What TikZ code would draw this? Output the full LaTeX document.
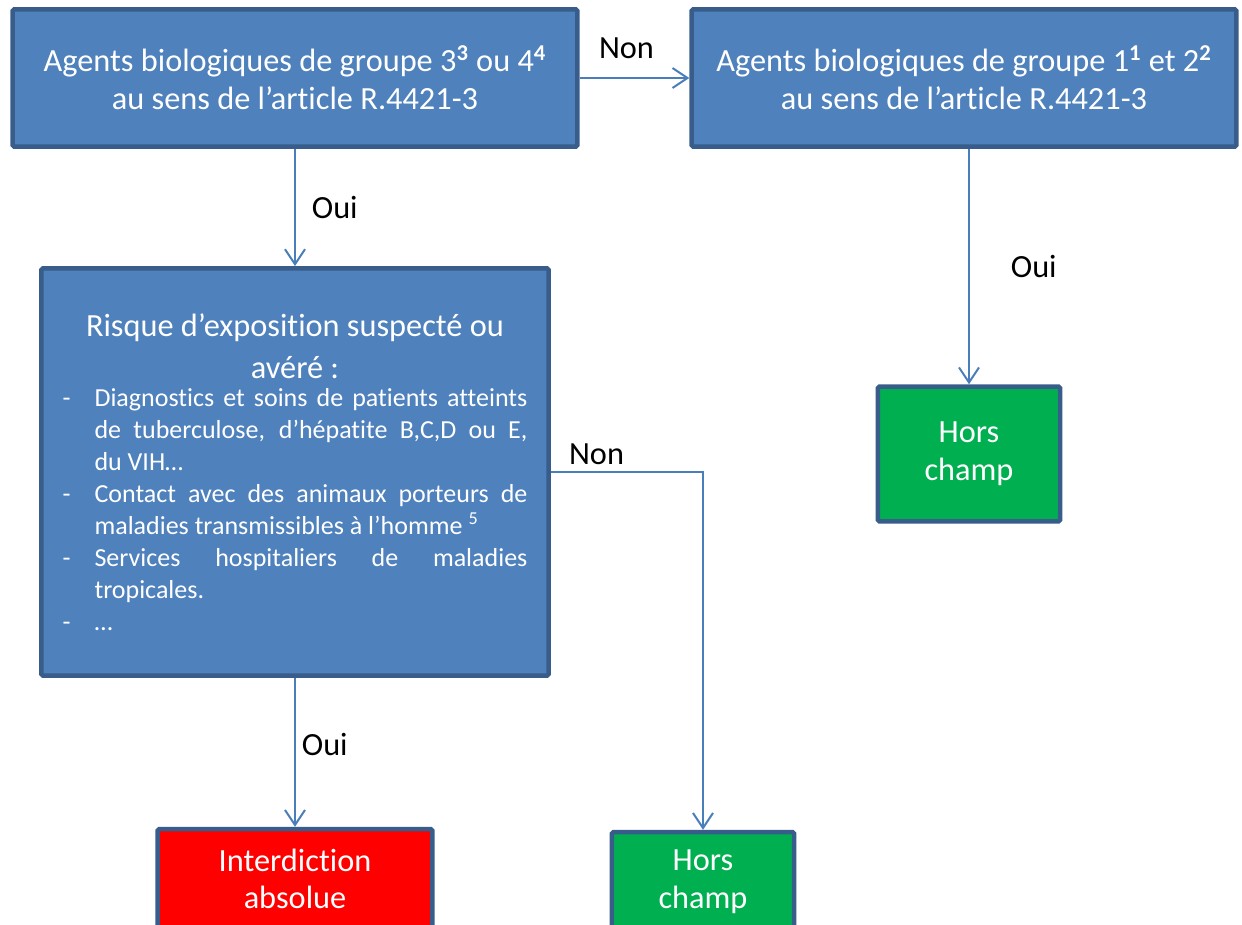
\documentclass[tikz,border=0pt]{standalone}
\usepackage{fontspec}
\setmainfont{Carlito}[Ligatures=NoCommon]
\usetikzlibrary{arrows.meta,quotes}
\definecolor{boxblue}{HTML}{4F81BD}
\definecolor{boxline}{HTML}{385D8A}
\definecolor{arrowblue}{HTML}{4A7EBB}
\definecolor{horsgreen}{HTML}{00B050}
\definecolor{interred}{HTML}{FF0000}
\newcommand{\tiret}{\par\hangindent=0.64cm\hangafter=1\noindent\makebox[0.64cm][l]{-}}
\newcommand{\supb}[1]{\textsuperscript{\textbf{#1}}}

\tikzset{
  box/.style={draw=boxline, line width=0.09cm, rounded corners=1pt, fill=boxblue,
    text=white, align=center, font=\fontsize{18.4}{21.5}\selectfont},
  greenbox/.style={box, fill=horsgreen},
  redbox/.style={box, fill=interred},
  link/.style={-{Straight Barb[length=0.3cm,width=0.4cm]}, arrowblue, line width=0.04cm},
  every edge quotes/.style={auto, text=black, font=\fontsize{18.4}{21.5}\selectfont}
}

\begin{document}
\begin{tikzpicture}[x=0.02cm, y=-0.02cm]
\useasboundingbox (0,0) rectangle (1242,925);
\clip (0,0) rectangle (1242,925);

% questions
\node[box, minimum width=11.3cm, minimum height=2.75cm] (agents34) at (295,78)
  {Agents biologiques de groupe 3\supb{3} ou 4\supb{4}\\ au sens de l’article R.4421-3};
\node[box, minimum width=10.9cm, minimum height=2.75cm] (agents12) at (964,78)
  {Agents biologiques de groupe 1\supb{1} et 2\supb{2}\\ au sens de l’article R.4421-3};
\node[box, minimum width=10.15cm, minimum height=8.15cm, text width=9.3cm, align=justify] (risque) at (295,472)
  {\hyphenpenalty=10000
  {\centering\fontsize{18.4}{21.5}\selectfont Risque d’exposition suspecté ou\par\vspace{2.3pt}avéré :\par}
  \vspace{-2.3pt}
  \fontsize{14.8}{18.2}\selectfont
  \tiret Diagnostics et soins de patients atteints\linebreak de tuberculose, d’hépatite B,C,D ou E,\linebreak du VIH…
  \tiret Contact avec des animaux porteurs de\linebreak maladies transmissibles à l’homme \textsuperscript{5}
  \tiret Services hospitaliers de maladies\linebreak tropicales.
  \tiret …\par};

% answers
\node[greenbox, minimum width=3.65cm, minimum height=2.7cm] (hors1) at (969,454) {Hors\\ champ};
\node[redbox, minimum width=5.5cm, minimum height=2cm] (interdit) at (295,879) {Interdiction\\ absolue};
\node[greenbox, minimum width=3.65cm, minimum height=2cm] (hors2) at (703,882) {Hors\\ champ};

% arrows
\draw[link] (agents34) to["Non" {xshift=-0.16cm, yshift=0.24cm}] (agents12);
\draw[link] (agents34) to["Oui" xshift=0.2cm] (risque);
\draw[link] (agents12.south -| hors1) to["Oui" xshift=0.7cm] (hors1);
\draw[link] (risque) to["Oui" {pos=0.45}] (interdit);
\draw[link] (risque) -| node[pos=0.15, above, text=black, font=\fontsize{18.4}{21.5}\selectfont] {Non} (hors2);
\end{tikzpicture}
\end{document}
